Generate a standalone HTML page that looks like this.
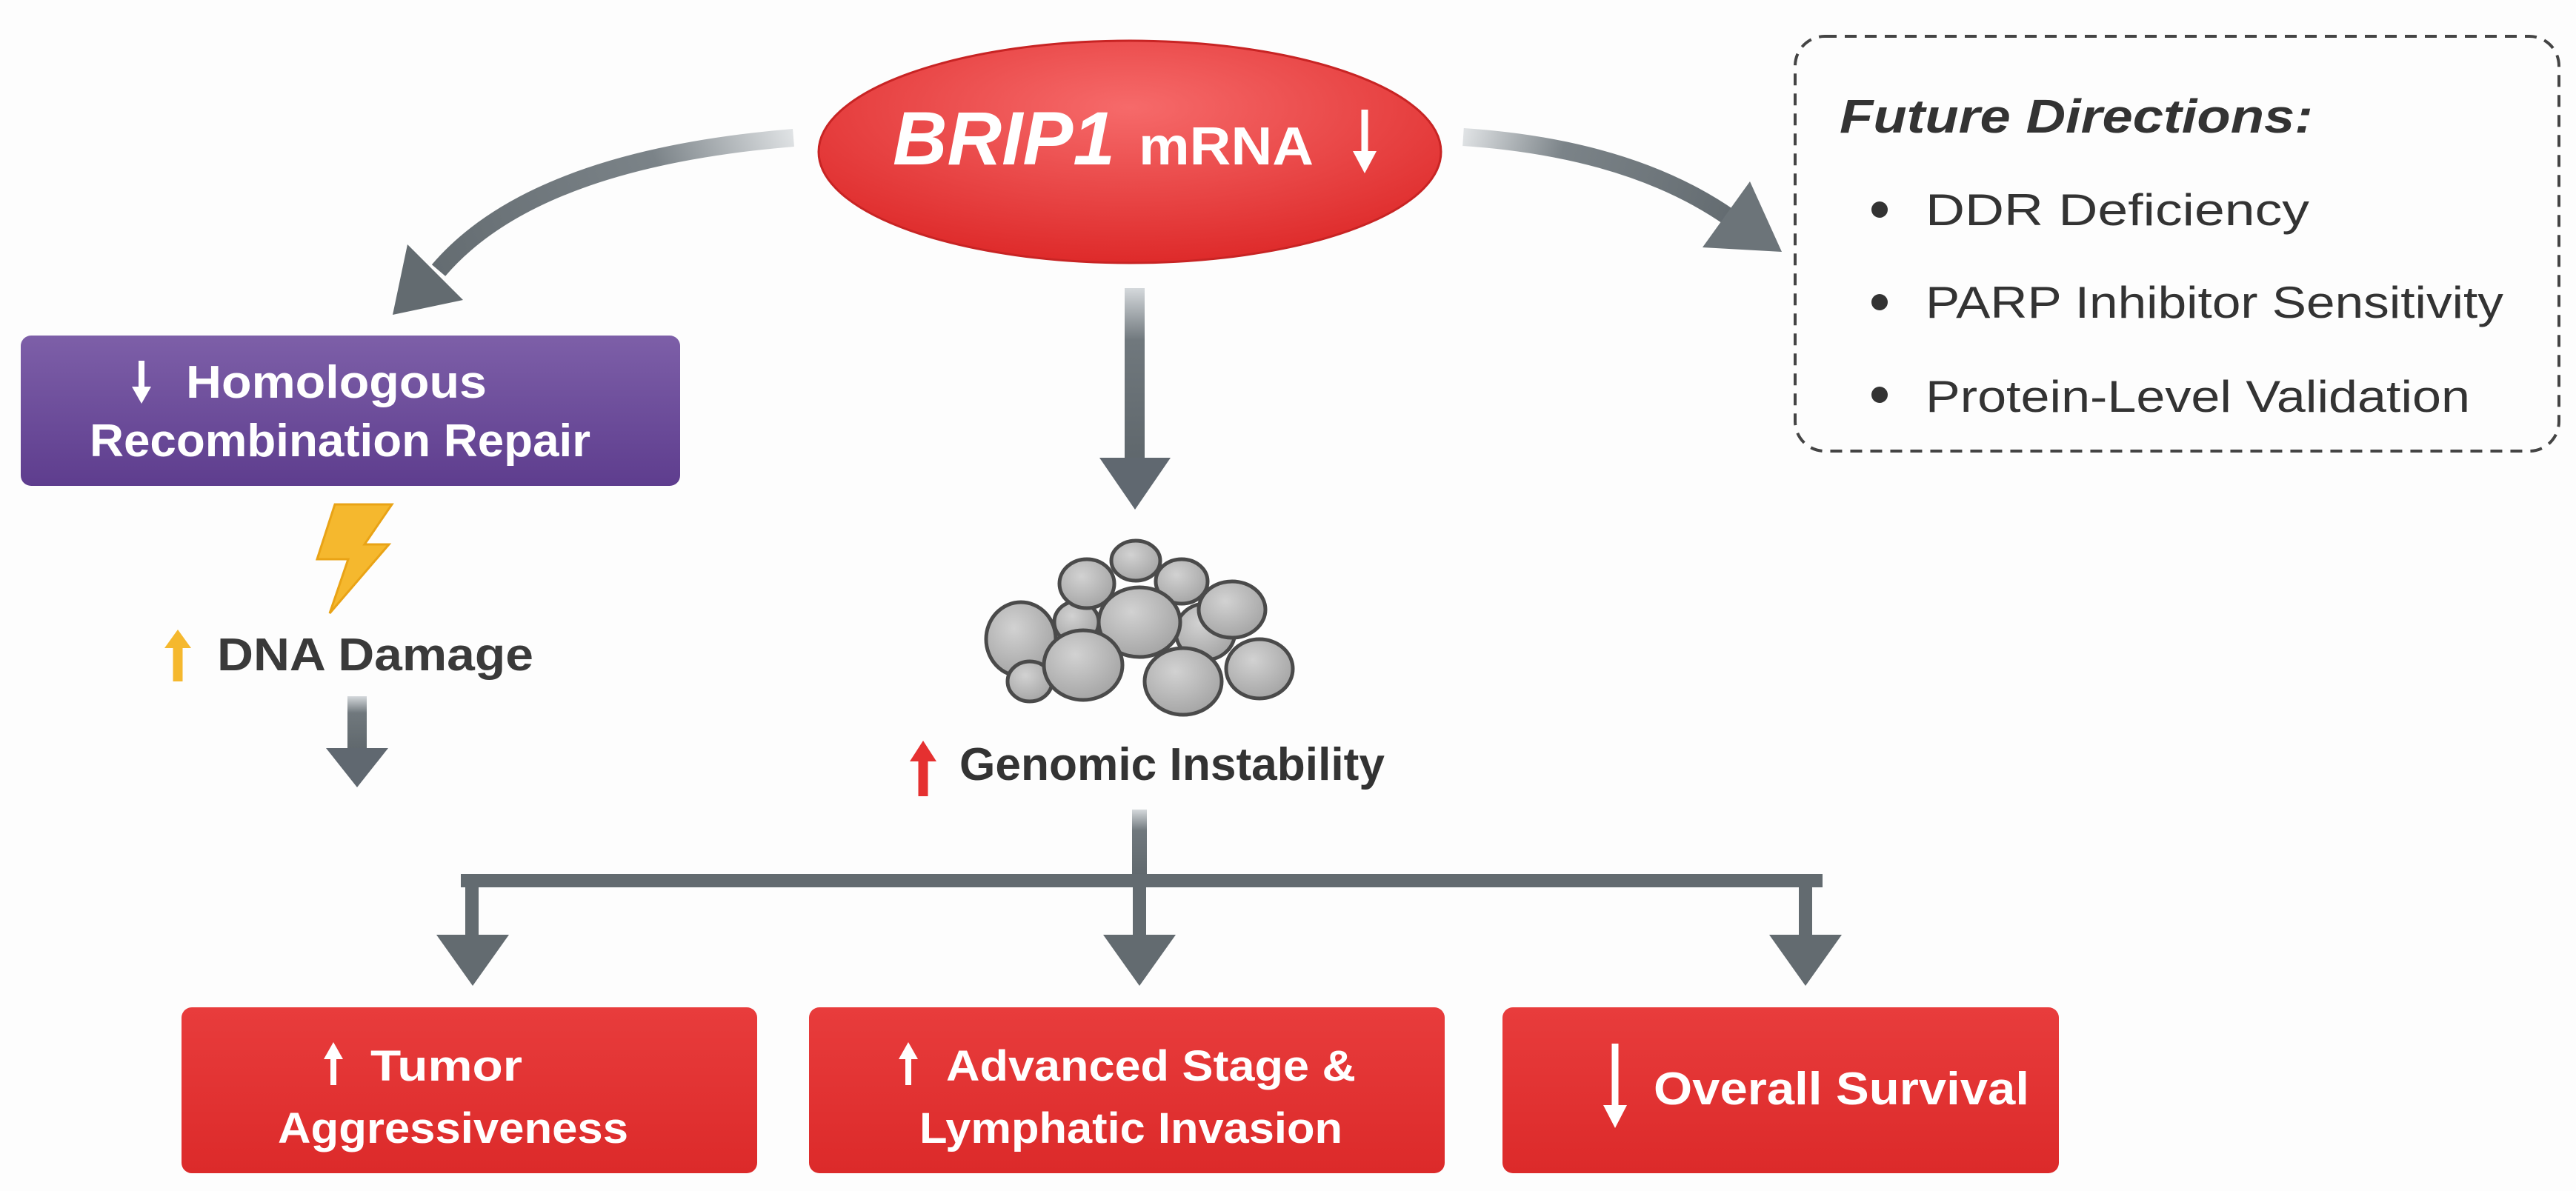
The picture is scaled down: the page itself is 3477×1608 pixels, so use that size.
<!DOCTYPE html>
<html><head><meta charset="utf-8"><style>
html,body{margin:0;padding:0;background:#fdfdfd;}
svg{display:block;}
text{font-family:"Liberation Sans",sans-serif;}
</style></head><body>
<svg width="3477" height="1608" viewBox="0 0 3477 1608" xmlns="http://www.w3.org/2000/svg">
<defs>
<radialGradient id="ell" cx="50%" cy="30%" r="70%">
<stop offset="0" stop-color="#f66a6a"/><stop offset="1" stop-color="#de2a2a"/></radialGradient>
<linearGradient id="purp" x1="0" y1="0" x2="0" y2="1"><stop offset="0" stop-color="#7d5fa8"/><stop offset="1" stop-color="#5e3d8e"/></linearGradient>
<linearGradient id="red" x1="0" y1="0" x2="0" y2="1"><stop offset="0" stop-color="#e83c3c"/><stop offset="1" stop-color="#dc2a2a"/></linearGradient>
<linearGradient id="gl" x1="1071" y1="186" x2="580" y2="380" gradientUnits="userSpaceOnUse"><stop offset="0" stop-color="#dfe2e4"/><stop offset="0.35" stop-color="#7b8388"/><stop offset="1" stop-color="#636b70"/></linearGradient>
<linearGradient id="gr" x1="1975" y1="185" x2="2340" y2="300" gradientUnits="userSpaceOnUse"><stop offset="0" stop-color="#dfe2e4"/><stop offset="0.35" stop-color="#7b8388"/><stop offset="1" stop-color="#636b70"/></linearGradient>
<linearGradient id="gv" x1="0" y1="0" x2="0" y2="1"><stop offset="0" stop-color="#d5d9dc"/><stop offset="0.3" stop-color="#70787d"/><stop offset="1" stop-color="#5f676c"/></linearGradient>
<radialGradient id="stone" cx="40%" cy="35%" r="70%"><stop offset="0" stop-color="#d2d2d2"/><stop offset="1" stop-color="#a3a3a3"/></radialGradient>
</defs>
<rect width="3477" height="1608" fill="#fdfdfd"/>

<!-- left curved arrow -->
<path d="M1071,186 Q720,215 592,365" fill="none" stroke="url(#gl)" stroke-width="24"/>
<polygon points="530,425 550,330 625,405" fill="#636b70"/>
<!-- right curved arrow -->
<path d="M1975,185 Q2200,200 2335,294" fill="none" stroke="url(#gr)" stroke-width="24"/>
<polygon points="2405,340 2298,334 2362,245" fill="#6c7479"/>

<!-- ellipse -->
<ellipse cx="1525" cy="205" rx="420" ry="150" fill="url(#ell)" stroke="#c82424" stroke-width="3"/>
<text x="1205" y="222" font-size="102" font-weight="bold" font-style="italic" fill="#fff" textLength="300" lengthAdjust="spacingAndGlyphs">BRIP1</text>
<text x="1537" y="222" font-size="72" font-weight="bold" fill="#fff" textLength="236" lengthAdjust="spacingAndGlyphs">mRNA</text>
<path d="M1842,148 V213" stroke="#fff" stroke-width="9"/><polygon points="1826,204 1858,204 1842,234" fill="#fff"/>

<!-- purple box -->
<rect x="28" y="453" width="890" height="203" rx="14" fill="url(#purp)"/>
<path d="M191,487 V530" stroke="#fff" stroke-width="8"/><polygon points="178,522 204,522 191,545" fill="#fff"/>
<text x="251" y="537" font-size="62" font-weight="bold" fill="#fff" textLength="406" lengthAdjust="spacingAndGlyphs">Homologous</text>
<text x="121" y="616" font-size="62" font-weight="bold" fill="#fff" textLength="676" lengthAdjust="spacingAndGlyphs">Recombination Repair</text>

<!-- lightning -->
<polygon points="452,681 529,681 492,735 525,735 445,828 470,755 428,755" fill="#f5b82e" stroke="#e9a316" stroke-width="3"/>

<!-- DNA damage -->
<path d="M240,870 V920" stroke="#f5b82e" stroke-width="13"/><polygon points="222,875 258,875 240,850" fill="#f5b82e"/>
<text x="293" y="905" font-size="62" font-weight="bold" fill="#3a3a3a" textLength="427" lengthAdjust="spacingAndGlyphs">DNA Damage</text>
<rect x="469" y="940" width="26" height="75" fill="url(#gv)"/>
<polygon points="440,1010 524,1010 482,1063" fill="#606870"/>

<!-- middle arrow -->
<rect x="1518" y="389" width="27" height="235" fill="url(#gv)"/>
<polygon points="1484,618 1580,618 1532,688" fill="#606870"/>

<!-- stones -->
<g stroke="#4a4a4a" stroke-width="5" fill="url(#stone)">
<ellipse cx="1453" cy="840" rx="30" ry="28"/>
<ellipse cx="1627" cy="853" rx="40" ry="38"/>
<ellipse cx="1467" cy="788" rx="37" ry="33"/>
<ellipse cx="1533" cy="757" rx="33" ry="27"/>
<ellipse cx="1595" cy="785" rx="35" ry="30"/>
<ellipse cx="1378" cy="863" rx="47" ry="50"/>
<ellipse cx="1663" cy="823" rx="45" ry="38"/>
<ellipse cx="1538" cy="840" rx="55" ry="47"/>
<ellipse cx="1390" cy="920" rx="30" ry="27"/>
<ellipse cx="1462" cy="898" rx="53" ry="47"/>
<ellipse cx="1597" cy="920" rx="52" ry="45"/>
<ellipse cx="1700" cy="903" rx="45" ry="40"/>
</g>

<!-- genomic -->
<path d="M1246,1023 V1075" stroke="#e53030" stroke-width="13"/><polygon points="1228,1028 1264,1028 1246,1000" fill="#e53030"/>
<text x="1295" y="1053" font-size="62" fill="#333" font-weight="bold" textLength="574" lengthAdjust="spacingAndGlyphs">Genomic Instability</text>

<!-- tree connector -->
<rect x="1528" y="1093" width="20" height="95" fill="url(#gv)"/>
<rect x="622" y="1180" width="1838" height="18" fill="#636b70"/>
<rect x="628" y="1180" width="18" height="90" fill="#636b70"/>
<rect x="1529" y="1180" width="18" height="90" fill="#636b70"/>
<rect x="2428" y="1180" width="18" height="90" fill="#636b70"/>
<polygon points="589,1262 687,1262 638,1331" fill="#636b70"/>
<polygon points="1489,1262 1587,1262 1538,1331" fill="#636b70"/>
<polygon points="2388,1262 2486,1262 2437,1331" fill="#636b70"/>

<!-- bottom boxes -->
<rect x="245" y="1360" width="777" height="224" rx="14" fill="url(#red)"/>
<rect x="1092" y="1360" width="858" height="224" rx="14" fill="url(#red)"/>
<rect x="2028" y="1360" width="751" height="224" rx="14" fill="url(#red)"/>
<g fill="#fff">
<path d="M450,1425 V1465" stroke="#fff" stroke-width="8"/><polygon points="437,1430 463,1430 450,1407"/>
<text x="500" y="1459" font-size="58" font-weight="bold" textLength="205" lengthAdjust="spacingAndGlyphs">Tumor</text>
<text x="375" y="1543" font-size="58" font-weight="bold" textLength="473" lengthAdjust="spacingAndGlyphs">Aggressiveness</text>
<path d="M1226,1425 V1465" stroke="#fff" stroke-width="8"/><polygon points="1213,1430 1239,1430 1226,1407"/>
<text x="1277" y="1459" font-size="58" font-weight="bold" textLength="553" lengthAdjust="spacingAndGlyphs">Advanced Stage &amp;</text>
<text x="1241" y="1543" font-size="58" font-weight="bold" textLength="571" lengthAdjust="spacingAndGlyphs">Lymphatic Invasion</text>
<path d="M2180,1409 V1500" stroke="#fff" stroke-width="9"/><polygon points="2164,1492 2196,1492 2180,1523"/>
<text x="2232" y="1491" font-size="62" font-weight="bold" textLength="507" lengthAdjust="spacingAndGlyphs">Overall Survival</text>
</g>

<!-- future directions -->
<rect x="2423" y="49" width="1031" height="560" rx="40" fill="none" stroke="#444" stroke-width="4" stroke-dasharray="16 11"/>
<text x="2483" y="179" font-size="64" font-weight="bold" font-style="italic" fill="#333" textLength="639" lengthAdjust="spacingAndGlyphs">Future Directions:</text>
<g fill="#333">
<circle cx="2537" cy="283" r="11"/><circle cx="2537" cy="408" r="11"/><circle cx="2537" cy="533" r="11"/>
<text x="2599" y="304" font-size="60" textLength="518" lengthAdjust="spacingAndGlyphs">DDR Deficiency</text>
<text x="2599" y="429" font-size="60" textLength="780" lengthAdjust="spacingAndGlyphs">PARP Inhibitor Sensitivity</text>
<text x="2599" y="556" font-size="60" textLength="735" lengthAdjust="spacingAndGlyphs">Protein-Level Validation</text>
</g>
</svg>
</body></html>
